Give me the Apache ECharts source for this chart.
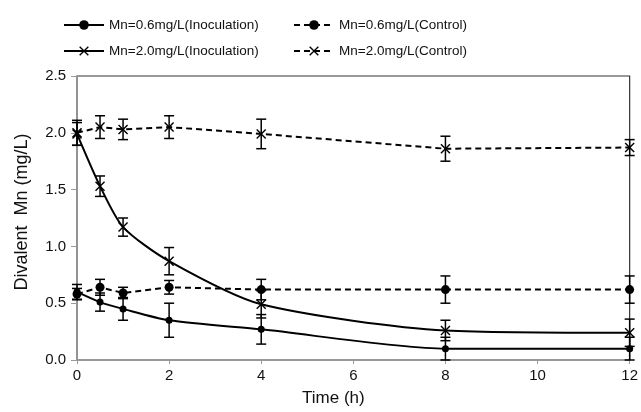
<!DOCTYPE html>
<html>
<head>
<meta charset="utf-8">
<script src="https://cdn.jsdelivr.net/npm/echarts@6/dist/echarts.min.js"></script>
<style>
  html, body { margin: 0; padding: 0; background: #fff; }
  #chart { width: 641px; height: 412px; }
</style>
</head>
<body>
<div id="chart"></div>
<script>
// sampling times (h)
var times = [0, 0.5, 1, 2, 4, 8, 12];

// divalent Mn (mg/L), means and error (+/-)
var inoc06 = [0.60, 0.51, 0.45, 0.35, 0.27, 0.10, 0.10];
var inoc06Err = [0.065, 0.08, 0.10, 0.15, 0.13, 0.10, 0.10];
var ctrl06 = [0.58, 0.64, 0.59, 0.64, 0.62, 0.62, 0.62];
var ctrl06Err = [0.05, 0.07, 0.05, 0.06, 0.09, 0.12, 0.12];
var inoc20 = [1.99, 1.53, 1.17, 0.87, 0.49, 0.26, 0.24];
var inoc20Err = [0.10, 0.09, 0.08, 0.12, 0.12, 0.09, 0.12];
var ctrl20 = [2.00, 2.05, 2.03, 2.05, 1.99, 1.86, 1.87];
var ctrl20Err = [0.11, 0.10, 0.09, 0.10, 0.13, 0.11, 0.07];

var names = ['Mn=0.6mg/L(Inoculation)', 'Mn=0.6mg/L(Control)',
             'Mn=2.0mg/L(Inoculation)', 'Mn=2.0mg/L(Control)'];

var FONT = '"Liberation Sans", Arial, sans-serif';
var CROSS = 'path://M0,1L1,0L5,4L9,0L10,1L6,5L10,9L9,10L5,6L1,10L0,9L4,5Z';

function pts(vals) {
  return times.map(function (t, i) { return [t, vals[i]]; });
}
function bars(vals, errs) {
  return times.map(function (t, i) { return [t, vals[i] - errs[i], vals[i] + errs[i]]; });
}

function errorSeries(vals, errs) {
  return {
    type: 'custom',
    clip: false,
    z: 3,
    data: bars(vals, errs),
    encode: { x: 0, y: [1, 2] },
    renderItem: function (params, api) {
      var lo = api.coord([api.value(0), api.value(1)]);
      var hi = api.coord([api.value(0), api.value(2)]);
      var w = 5;
      var st = { stroke: '#000', lineWidth: 1.5 };
      return {
        type: 'group',
        children: [
          { type: 'line', shape: { x1: lo[0], y1: lo[1], x2: hi[0], y2: hi[1] }, style: st },
          { type: 'line', shape: { x1: lo[0] - w, y1: lo[1], x2: lo[0] + w, y2: lo[1] }, style: st },
          { type: 'line', shape: { x1: hi[0] - w, y1: hi[1], x2: hi[0] + w, y2: hi[1] }, style: st }
        ]
      };
    }
  };
}

function lineSeries(name, vals, dashed, symbol, size, smooth) {
  return {
    name: name,
    type: 'line',
    data: pts(vals),
    smooth: smooth,
    symbol: symbol,
    symbolSize: size,
    showAllSymbol: true,
    z: 4,
    itemStyle: { color: '#000' },
    lineStyle: { color: '#000', width: 2, type: dashed ? [6, 4] : 'solid' }
  };
}

var legendText = { fontSize: 13.5, color: '#111', fontFamily: FONT };

var chart = echarts.init(document.getElementById('chart'));
chart.setOption({
  animation: false,
  textStyle: { fontFamily: FONT },
  legend: [
    {
      data: [names[0], names[2]],
      orient: 'vertical', left: 58, top: 13, itemGap: 12,
      itemWidth: 40, itemHeight: 12,
      textStyle: legendText
    },
    {
      data: [names[1], names[3]],
      orient: 'vertical', left: 288, top: 13, itemGap: 12,
      itemWidth: 40, itemHeight: 12,
      textStyle: legendText
    }
  ],
  grid: {
    left: 77, right: 9, top: 76, bottom: 51,
    show: true, borderColor: '#333', borderWidth: 1.2
  },
  xAxis: {
    type: 'value', min: 0, max: 12, interval: 2,
    name: 'Time (h)', nameLocation: 'middle', nameGap: 30,
    nameTextStyle: { fontSize: 17, color: '#111', padding: [0, 40, 0, 0] },
    axisLine: { lineStyle: { color: '#999', width: 1.5 } },
    axisTick: { lineStyle: { color: '#999' }, length: 4 },
    axisLabel: { fontSize: 15, color: '#111', margin: 8 },
    splitLine: { show: false }
  },
  yAxis: {
    type: 'value', min: 0, max: 2.5, interval: 0.5,
    name: 'Divalent  Mn (mg/L)', nameLocation: 'middle', nameGap: 46,
    nameTextStyle: { fontSize: 18, color: '#111', padding: [0, 0, 0, 12] },
    axisLine: { show: true, lineStyle: { color: '#999', width: 1.5 } },
    axisTick: { show: true, lineStyle: { color: '#999' }, length: 6 },
    axisLabel: {
      fontSize: 15, color: '#111', margin: 11,
      formatter: function (v) { return v.toFixed(1); }
    },
    splitLine: { show: false }
  },
  series: [
    errorSeries(inoc06, inoc06Err),
    errorSeries(ctrl06, ctrl06Err),
    errorSeries(inoc20, inoc20Err),
    errorSeries(ctrl20, ctrl20Err),
    lineSeries(names[0], inoc06, false, 'circle', 7, 0.25),
    lineSeries(names[1], ctrl06, true, 'circle', 9, false),
    lineSeries(names[2], inoc20, false, CROSS, 10, 0.25),
    lineSeries(names[3], ctrl20, true, CROSS, 10, false)
  ]
});
</script>
</body>
</html>
